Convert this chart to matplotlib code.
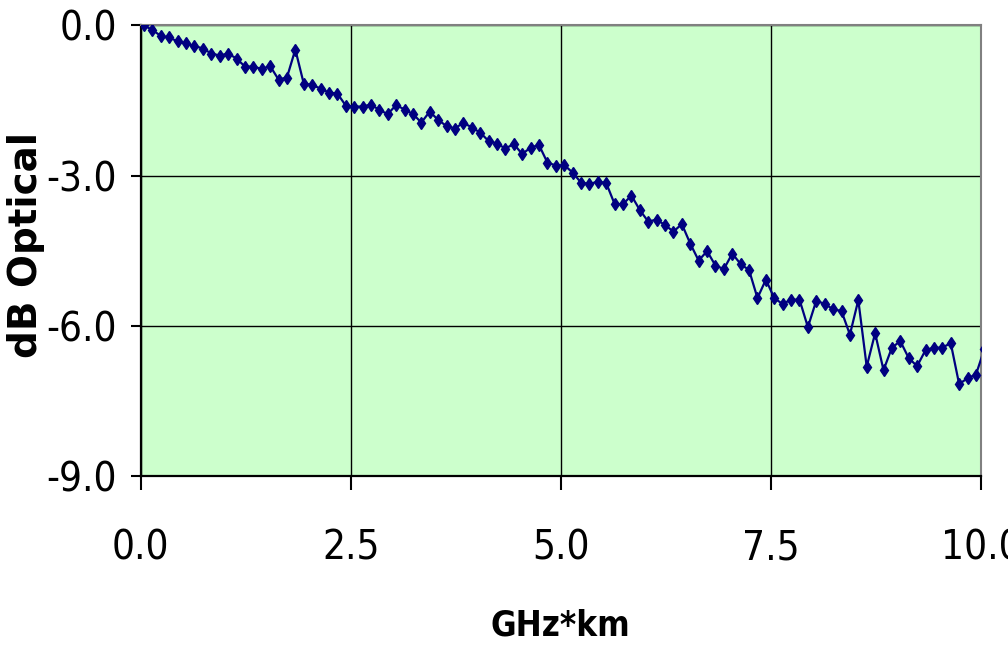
import numpy as np
import matplotlib
matplotlib.use("Agg")
from matplotlib import pyplot as plt
from matplotlib.ticker import FormatStrFormatter

# frequency * length, one sample every 0.1 GHz*km
ghz_km = np.round(0.04 + 0.1 * np.arange(101), 2)
db_optical = [
    0.00, -0.09, -0.21, -0.24, -0.32, -0.36, -0.41, -0.46, -0.56, -0.60,
    -0.56, -0.66, -0.82, -0.82, -0.87, -0.81, -1.08, -1.04, -0.48, -1.16,
    -1.19, -1.26, -1.34, -1.36, -1.60, -1.62, -1.62, -1.58, -1.69, -1.77,
    -1.59, -1.68, -1.77, -1.94, -1.72, -1.89, -2.01, -2.06, -1.94, -2.04,
    -2.14, -2.31, -2.36, -2.46, -2.37, -2.57, -2.44, -2.39, -2.74, -2.80,
    -2.79, -2.94, -3.14, -3.17, -3.12, -3.15, -3.57, -3.57, -3.40, -3.69,
    -3.92, -3.88, -3.99, -4.12, -3.97, -4.36, -4.70, -4.51, -4.80, -4.87,
    -4.56, -4.77, -4.89, -5.45, -5.08, -5.45, -5.57, -5.48, -5.48, -6.03,
    -5.50, -5.57, -5.67, -5.71, -6.18, -5.49, -6.82, -6.15, -6.89, -6.44,
    -6.31, -6.65, -6.81, -6.49, -6.44, -6.44, -6.35, -7.17, -7.05, -6.98,
    -6.47,
]
x_ticks = [0.0, 2.5, 5.0, 7.5, 10.0]
y_ticks = [0.0, -3.0, -6.0, -9.0]

plt.rcParams['axes.unicode_minus'] = False

fig = plt.figure(figsize=(10.08, 6.47), dpi=100)
ax = fig.add_axes([0.1396, 0.2648, 0.8336, 0.6958])
ax.set_facecolor('#CCFFCC')

ax.plot(ghz_km, db_optical, color='#000080', linewidth=1.6,
        marker='d', markersize=6, markerfacecolor='#000080',
        markeredgecolor='#000080', clip_on=True, zorder=3)

ax.set_xlim(0, 10)
ax.set_ylim(-9, 0)
ax.set_xticks(x_ticks)
ax.set_yticks(y_ticks)
ax.xaxis.set_major_formatter(FormatStrFormatter('%.1f'))
ax.yaxis.set_major_formatter(FormatStrFormatter('%.1f'))

ax.grid(True, color='black', linewidth=1.0, zorder=1)
ax.set_axisbelow(True)

for side in ('left', 'bottom'):
    ax.spines[side].set_color('black')
    ax.spines[side].set_linewidth(1.6)
for side in ('top', 'right'):
    ax.spines[side].set_color('#808080')
    ax.spines[side].set_linewidth(1.5)

ax.tick_params(axis='x', direction='out', length=10, width=1.5, pad=28)
ax.tick_params(axis='y', direction='out', length=7, width=1.5, pad=10)
for lbl in ax.get_xticklabels() + ax.get_yticklabels():
    lbl.set_family('DejaVu Sans')
    lbl.set_fontstretch('condensed')
    lbl.set_fontsize(29)

# axis titles
fig.text(560 / 1008, 1 - 625 / 647, 'GHz*km', ha='center', va='center',
         fontsize=25, fontweight='bold', family='DejaVu Sans',
         fontstretch='condensed')
fig.text(26 / 1008, 1 - 245 / 647, 'dB Optical', rotation=90,
         ha='center', va='center', fontsize=28, fontweight='bold',
         family='DejaVu Sans')

fig.savefig('out.png', dpi=100)
